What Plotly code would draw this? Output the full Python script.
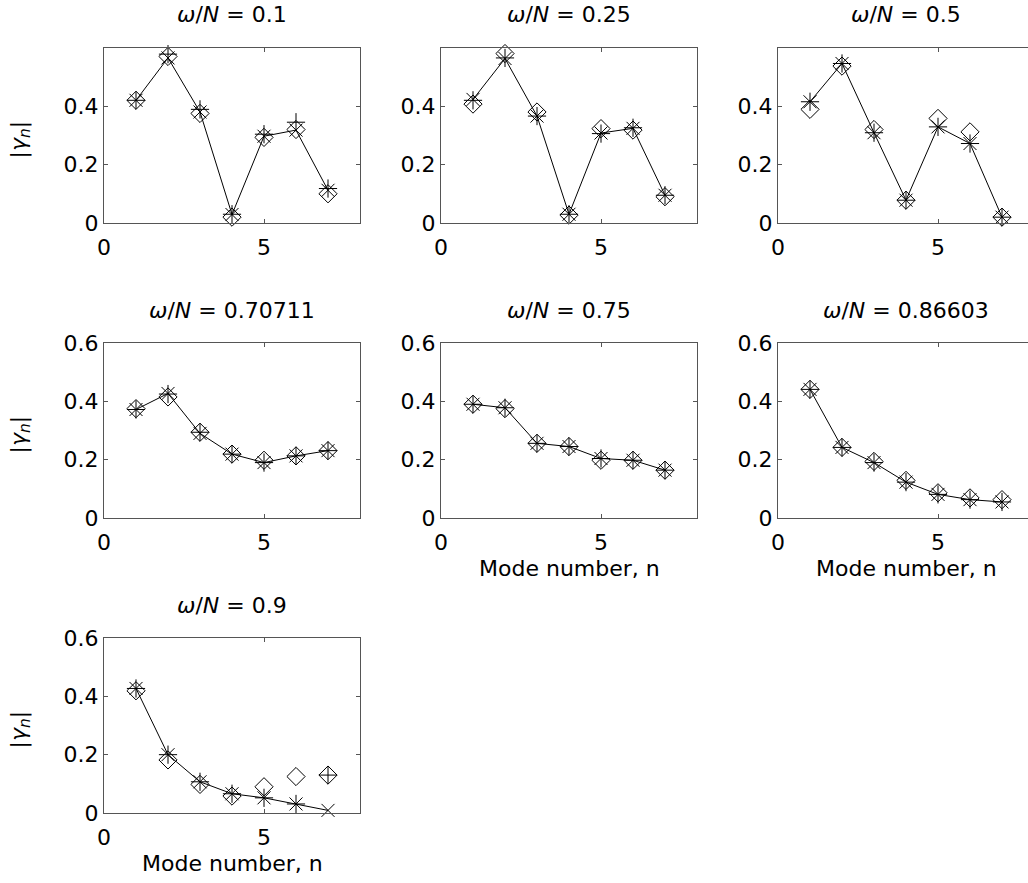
import plotly.graph_objects as go

modes = [1, 2, 3, 4, 5, 6, 7]
ratios = ["0.1", "0.25", "0.5", "0.70711", "0.75", "0.86603", "0.9"]

dia_1 = [0.42, 0.57, 0.375, 0.02, 0.293, 0.32, 0.10]
plus_1 = [0.42, 0.578, 0.389, 0.03, 0.304, 0.345, 0.118]
cross_1 = [0.42, 0.565, 0.38, 0.029, 0.297, 0.318, 0.112]

dia_2 = [0.407, 0.58, 0.38, 0.027, 0.323, 0.318, 0.09]
plus_2 = [0.42, 0.565, 0.366, 0.03, 0.306, 0.326, 0.095]
cross_2 = [0.423, 0.563, 0.366, 0.03, 0.308, 0.324, 0.095]

dia_3 = [0.389, 0.537, 0.32, 0.078, 0.358, 0.312, 0.02]
plus_3 = [0.415, 0.546, 0.309, 0.078, 0.329, 0.272, 0.02]
cross_3 = [0.415, 0.546, 0.309, 0.078, 0.329, 0.272, 0.02]

dia_4 = [0.375, 0.415, 0.294, 0.219, 0.198, 0.213, 0.231]
plus_4 = [0.372, 0.425, 0.294, 0.219, 0.19, 0.213, 0.231]
cross_4 = [0.372, 0.427, 0.29, 0.219, 0.19, 0.213, 0.231]

dia_5 = [0.39, 0.375, 0.256, 0.245, 0.198, 0.198, 0.164]
plus_5 = [0.39, 0.378, 0.256, 0.245, 0.204, 0.198, 0.164]
cross_5 = [0.39, 0.378, 0.256, 0.245, 0.204, 0.198, 0.164]

dia_6 = [0.441, 0.242, 0.194, 0.129, 0.0865, 0.069, 0.063]
plus_6 = [0.441, 0.242, 0.19, 0.123, 0.081, 0.063, 0.055]
cross_6 = [0.441, 0.242, 0.19, 0.123, 0.081, 0.063, 0.055]

dia_7 = [0.419, 0.182, 0.098, 0.058, 0.09, 0.125, 0.13]
plus_7 = [0.427, 0.2, 0.107, 0.066, 0.052, 0.031, 0.13]
cross_7 = [0.427, 0.2, 0.107, 0.066, 0.052, 0.031, 0.009]

dia_all = [dia_1, dia_2, dia_3, dia_4, dia_5, dia_6, dia_7]
plus_all = [plus_1, plus_2, plus_3, plus_4, plus_5, plus_6, plus_7]
cross_all = [cross_1, cross_2, cross_3, cross_4, cross_5, cross_6, cross_7]

W, H = 1028, 883
FONT = "DejaVu Sans, Liberation Sans, Arial, sans-serif"
FS = 22
AXC = "#555555"

col_left = [104, 441, 778]
ax_w = 256
row_top = [48, 343, 638]
ax_h = 175

fig = go.Figure()
annotations = []

for i in range(7):
    r, c = divmod(i, 3)
    k = i + 1
    xa = "x" if k == 1 else f"x{k}"
    ya = "y" if k == 1 else f"y{k}"
    left = col_left[c]
    right = left + ax_w
    xmax = 8.0
    mirror_y = "ticks"
    if right > W:
        xmax = 8.0 * (W - left) / ax_w
        right = W
        mirror_y = False
    top = row_top[r]
    bot = top + ax_h
    xd = [left / W, right / W]
    yd = [1 - bot / H, 1 - top / H]

    fig.add_trace(go.Scatter(x=modes, y=dia_all[i], mode="markers", xaxis=xa, yaxis=ya,
                             marker=dict(symbol="diamond-open", size=14, color="black",
                                         line=dict(width=1, color="black")),
                             showlegend=False, cliponaxis=False))
    fig.add_trace(go.Scatter(x=modes, y=plus_all[i], mode="markers", xaxis=xa, yaxis=ya,
                             marker=dict(symbol="cross-thin-open", size=13, color="black",
                                         line=dict(width=1, color="black")),
                             showlegend=False, cliponaxis=False))
    fig.add_trace(go.Scatter(x=modes, y=cross_all[i], mode="lines+markers", xaxis=xa, yaxis=ya,
                             line=dict(color="black", width=1),
                             marker=dict(symbol="x-thin-open", size=13, color="black",
                                         line=dict(width=1, color="black")),
                             showlegend=False, cliponaxis=False))

    ytv = [0, 0.2, 0.4] if r == 0 else [0, 0.2, 0.4, 0.6]
    ytt = ["0", "0.2", "0.4"] if r == 0 else ["0", "0.2", "0.4", "0.6"]
    yr = [0, 0.599] if r == 0 else [0, 0.6]

    fig.layout[f"xaxis{'' if k == 1 else k}"] = dict(
        domain=xd, range=[0, xmax], tickvals=[0, 5], ticktext=["0", "5"],
        showline=True, linecolor=AXC, linewidth=1, mirror="ticks",
        ticks="inside", ticklen=4, tickcolor=AXC, showgrid=False, zeroline=False,
        anchor=ya, tickfont=dict(family=FONT, size=FS, color="black"),
        ticklabelstandoff=5, automargin=False, fixedrange=True)
    fig.layout[f"yaxis{'' if k == 1 else k}"] = dict(
        domain=yd, range=yr, tickvals=ytv, ticktext=ytt,
        showline=True, linecolor=AXC, linewidth=1, mirror=mirror_y,
        ticks="inside", ticklen=4, tickcolor=AXC, showgrid=False, zeroline=False,
        anchor=xa, tickfont=dict(family=FONT, size=FS, color="black"),
        ticklabelstandoff=0, automargin=False, fixedrange=True)

    cx = (left + ax_w / 2) / W
    annotations.append(dict(
        x=cx, y=1 - (top - 33) / H, xref="paper", yref="paper",
        text=f"<i>ω</i>/<i>N</i> = {ratios[i]}", showarrow=False,
        xanchor="center", yanchor="middle",
        font=dict(family=FONT, size=FS, color="black")))
    if c == 0:
        annotations.append(dict(
            x=20 / W, y=1 - (top + ax_h / 2 + 4) / H, xref="paper", yref="paper",
            text="|<i>γ</i><sub><i>n</i></sub>|", showarrow=False, textangle=-90,
            xanchor="center", yanchor="middle",
            font=dict(family=FONT, size=FS, color="black")))
    if i >= 4:
        annotations.append(dict(
            x=cx, y=1 - (bot + 50) / H, xref="paper", yref="paper",
            text="Mode number, n", showarrow=False,
            xanchor="center", yanchor="middle",
            font=dict(family=FONT, size=FS, color="black")))

fig.update_layout(template="none", width=W, height=H,
                  margin=dict(l=0, r=0, t=0, b=0, pad=0, autoexpand=False),
                  paper_bgcolor="white", plot_bgcolor="white",
                  annotations=annotations, showlegend=False)

fig.write_html("out.html", config={"responsive": False})
